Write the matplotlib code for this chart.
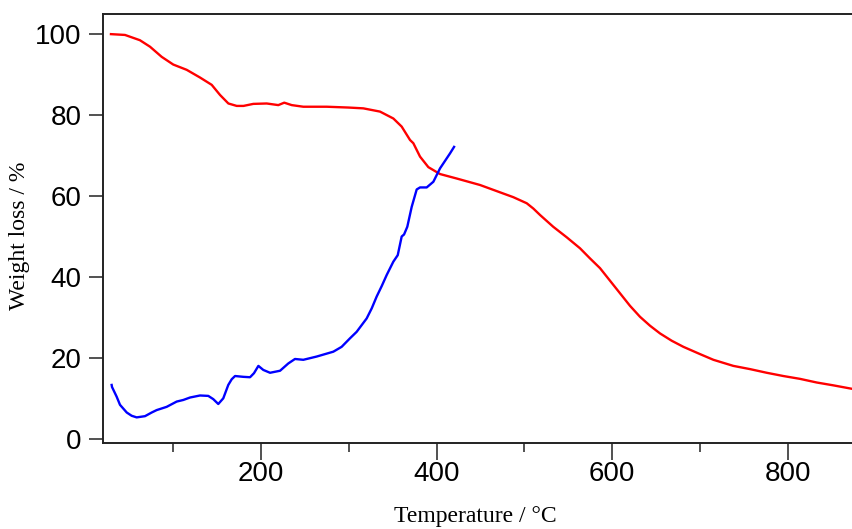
import matplotlib.pyplot as plt
from matplotlib.ticker import MultipleLocator

# TGA curve (red) - weight loss vs temperature
tga_t = [29, 45, 62, 73.5, 86.8, 100, 115.3, 130.5, 143.8, 153.3, 162.8, 172.3, 180,
         191.2, 206.5, 219.7, 226.5, 235, 248.2, 274.9, 299.5, 316.6, 335.6, 350.8,
         360.3, 369.8, 373.6, 381.2, 390.7, 404, 423, 449.6, 476.1, 487.5, 502.8,
         510.3, 518, 533, 548.4, 563.5, 574.9, 586.3, 597.7, 609.1, 620.5, 631.9,
         643.3, 654.7, 668, 681.3, 700.3, 715.5, 738.2, 757.3, 776.3, 795.2, 814.2,
         833.3, 852.2, 874.6]
tga_w = [99.9, 99.7, 98.4, 96.8, 94.3, 92.4, 91.1, 89.2, 87.4, 84.9, 82.8, 82.2, 82.2,
         82.7, 82.8, 82.4, 83.0, 82.4, 82.0, 82.0, 81.8, 81.6, 80.8, 79.1,
         77.1, 73.8, 73.0, 69.7, 67.1, 65.4, 64.3, 62.7, 60.6, 59.7, 58.2,
         56.9, 55.3, 52.4, 49.8, 47.1, 44.6, 42.2, 39.1, 36.0, 32.9, 30.2,
         28.0, 26.1, 24.3, 22.8, 21.0, 19.6, 18.1, 17.3, 16.4, 15.6, 14.9,
         14.0, 13.3, 12.4]

# second curve (blue)
dtg_t = [29.8, 30.2, 35.5, 39.3, 47, 52.6, 58.3, 67.8, 75.4, 81.1, 92.5, 103.9, 111.5,
         119.1, 130.5, 139.9, 145.6, 151.3, 157, 162.7, 166.6, 170.4, 179.8, 187.5, 192,
         197, 202.6, 210.3, 221.7, 231.1, 238.7, 248.2, 263.4, 282.4, 291.9, 301.4, 309,
         320.4, 326.2, 331.8, 337.6, 343.2, 350.8, 355.8, 360.3, 363, 366.7, 371.7,
         377.4, 381.2, 388.8, 396.4, 404, 415.4, 420]
dtg_w = [13.4, 12.9, 10.5, 8.5, 6.6, 5.8, 5.4, 5.7, 6.6, 7.2, 8.0, 9.3, 9.7,
         10.3, 10.8, 10.7, 9.9, 8.7, 10.1, 13.4, 14.8, 15.6, 15.4, 15.3, 16.3,
         18.1, 17.1, 16.4, 16.9, 18.7, 19.8, 19.6, 20.4, 21.6, 22.8, 24.9, 26.5,
         29.8, 32.3, 35.2, 37.8, 40.5, 43.8, 45.4, 50.0, 50.5, 52.4, 57.3,
         61.6, 62.1, 62.1, 63.5, 66.8, 70.5, 72.1]

fig = plt.figure(figsize=(8.53, 5.29), dpi=100)
ax = fig.add_axes([0.1202, 0.162, 0.8798, 0.8115])

ax.plot(tga_t, tga_w, color='#ff0000', lw=1.7)
ax.plot(dtg_t, dtg_w, color='#0000ff', lw=1.7)

ax.set_xlim(19.4, 874.6)
ax.set_ylim(-0.99, 104.86)

ax.xaxis.set_major_locator(MultipleLocator(200))
ax.xaxis.set_minor_locator(MultipleLocator(100))
ax.yaxis.set_major_locator(MultipleLocator(20))

ax.spines['right'].set_visible(False)
for s in ['left', 'bottom', 'top']:
    ax.spines[s].set_linewidth(1.4)
    ax.spines[s].set_color('#222222')

ax.tick_params(axis='x', which='major', direction='out', length=12, width=1.1, pad=1,
               labelsize=20, color='#222222')
ax.tick_params(axis='x', which='minor', direction='out', length=6.5, width=1.1, color='#222222')
ax.tick_params(axis='y', which='major', direction='out', length=10, width=1.1, pad=5,
               labelsize=20, color='#222222')
for lab in ax.get_xticklabels() + ax.get_yticklabels():
    lab.set_fontfamily('Liberation Sans')

ax.set_xlabel('Temperature / °C', fontsize=17, family='Liberation Serif')
ax.set_ylabel('Weight loss / %', fontsize=17, family='Liberation Serif')
ax.xaxis.set_label_coords(0.497, -0.145)
ax.yaxis.set_label_coords(-0.097, 0.483)

fig.savefig('out.png', dpi=100)
